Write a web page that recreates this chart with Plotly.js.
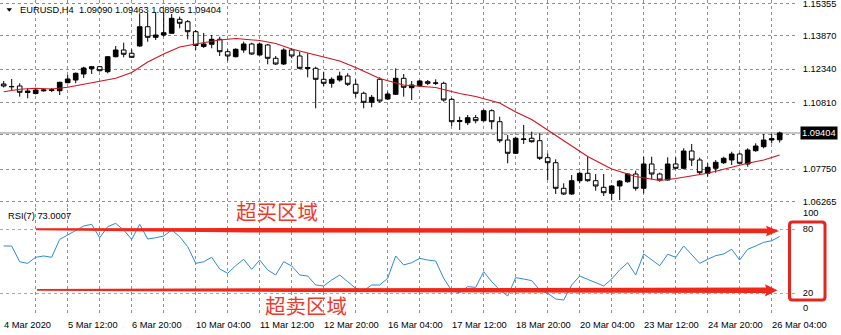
<!DOCTYPE html>
<html><head><meta charset="utf-8">
<script src="https://cdn.plot.ly/plotly-3.0.1.min.js"></script>
<style>html,body{margin:0;padding:0;background:#fff}#chart{width:841px;height:335px}</style>
</head><body><div id="chart"></div>
<script>
// ---------- DATA (EURUSD H4) ----------
const symbolTitle = 'EURUSD,H4';
const lastOHLC = ['1.09090', '1.09463', '1.08965', '1.09404'];

const opens = [1.11651,1.11537,1.11560,1.11261,1.11215,1.11339,1.11353,1.11344,1.11711,1.11835,
1.12110,1.12354,1.12446,1.12216,1.12905,1.13212,1.13061,1.13396,1.14281,1.13795,
1.13900,1.13979,1.14621,1.14511,1.14052,1.13373,1.13474,1.13703,1.13134,1.12905,
1.13212,1.13487,1.12983,1.13442,1.12831,1.12569,1.13212,1.12937,1.12363,1.12372,
1.11867,1.11683,1.11835,1.12019,1.11638,1.11225,1.10811,1.11867,1.10963,1.11179,
1.11913,1.11482,1.11573,1.11757,1.11683,1.11683,1.10949,1.09930,1.09875,1.10105,
1.09967,1.10426,1.09921,1.09081,1.08471,1.09104,1.09160,1.09049,1.08269,1.08039,
1.06864,1.06602,1.07213,1.07553,1.07213,1.06910,1.06635,1.06970,1.07167,1.07520,
1.06864,1.07980,1.07520,1.07245,1.07980,1.07782,1.08576,1.08163,1.07553,1.07782,
1.08039,1.08163,1.08439,1.07980,1.08590,1.08774,1.09081,1.09090];

const highs = [1.11789,1.11881,1.11683,1.11454,1.11422,1.11422,1.11468,1.11757,1.12064,1.12179,
1.12446,1.12478,1.12478,1.12937,1.13396,1.13547,1.13244,1.14897,1.14910,1.14933,
1.14956,1.14864,1.14740,1.14589,1.14130,1.13992,1.13900,1.13822,1.13244,1.13290,
1.13593,1.13547,1.13520,1.13487,1.12937,1.13290,1.13290,1.13134,1.13061,1.12446,
1.12216,1.11959,1.12216,1.12142,1.11867,1.11298,1.11147,1.11959,1.11298,1.12372,
1.12110,1.11789,1.11835,1.11835,1.11867,1.11757,1.11009,1.10151,1.10229,1.10229,
1.10490,1.10490,1.10151,1.09311,1.09233,1.09770,1.09462,1.09389,1.08471,1.08195,
1.07094,1.07475,1.07626,1.08315,1.07520,1.07520,1.07016,1.07245,1.07553,1.07672,
1.08315,1.08315,1.07580,1.08287,1.08287,1.08700,1.08897,1.08269,1.08012,1.08163,
1.08315,1.08544,1.08498,1.08700,1.08929,1.09357,1.09357,1.09463];

const lows = [1.11491,1.11376,1.11069,1.10995,1.11170,1.11298,1.11284,1.11147,1.11683,1.11683,
1.11927,1.12110,1.12225,1.12142,1.12877,1.12877,1.12845,1.13364,1.13593,1.13671,
1.13822,1.13969,1.14208,1.13703,1.13212,1.13304,1.13290,1.12937,1.12721,1.12877,
1.13088,1.12983,1.12960,1.12556,1.12524,1.12524,1.12831,1.12326,1.11959,1.10536,
1.11560,1.11482,1.11757,1.11560,1.11041,1.10536,1.10582,1.10793,1.10917,1.11147,
1.11069,1.10917,1.11528,1.11606,1.11606,1.10839,1.09724,1.09540,1.09770,1.09848,
1.09921,1.09572,1.08957,1.08012,1.08439,1.08897,1.08957,1.08163,1.07245,1.06602,
1.06557,1.06557,1.07094,1.07167,1.06754,1.06511,1.06327,1.06327,1.07121,1.06754,
1.06635,1.07277,1.07167,1.07213,1.07736,1.07736,1.07888,1.07520,1.07397,1.07580,
1.07980,1.07934,1.07980,1.07856,1.08544,1.08700,1.08929,1.08965];

const closes = [1.11560,1.11528,1.11271,1.11330,1.11376,1.11376,1.11385,1.11729,1.11881,1.12142,
1.12386,1.12446,1.12262,1.12905,1.13212,1.13015,1.12877,1.14281,1.13795,1.13900,
1.14006,1.14667,1.14438,1.14052,1.13419,1.13487,1.13703,1.13134,1.12937,1.13244,
1.13487,1.13028,1.13487,1.12831,1.12569,1.13212,1.12937,1.12372,1.12409,1.11867,
1.11683,1.11867,1.12019,1.11638,1.11225,1.10811,1.11041,1.10871,1.11192,1.11913,
1.11500,1.11606,1.11789,1.11683,1.11697,1.10917,1.09921,1.09976,1.10105,1.09967,
1.10426,1.09921,1.09049,1.08471,1.09160,1.09127,1.09003,1.08241,1.08039,1.06864,
1.06602,1.07213,1.07553,1.07213,1.06970,1.06662,1.06970,1.07199,1.07520,1.06864,
1.07980,1.07520,1.07245,1.07980,1.07782,1.08576,1.08163,1.07580,1.07828,1.08058,
1.08241,1.08439,1.08012,1.08622,1.08806,1.09081,1.09141,1.09404];

// moving average (red line), read at these bar indices
const maIdx = [0,2,4,6,8,10,12,14,16,18,20,22,24,27,29,32,34,36,39,42,44,47,50,52,54,57,59,62,64,66,68,70,73,76,79,82,84,88,90,93,95,97];
const maVal = [1.11298,1.11408,1.11454,1.11422,1.11500,1.11628,1.11757,1.11913,1.12179,1.12661,1.13028,1.13350,1.13487,1.13671,1.13740,1.13648,1.13510,1.13258,1.12983,1.12707,1.12409,1.11904,1.11606,1.11560,1.11491,1.11215,1.11078,1.10779,1.10366,1.10022,1.09540,1.09058,1.08324,1.07750,1.07406,1.07222,1.07314,1.07553,1.07750,1.08012,1.08163,1.08393];

// RSI(7)
const rsi = [64.1,64.0,49.3,47.8,53.5,54.7,53.5,70.3,74.4,79.0,
82.8,84.4,71.8,82.2,85.3,79.0,70.3,84.4,70.6,71.8,
73.4,79.0,72.8,63.4,47.8,49.3,53.5,42.5,38.5,45.6,
51.6,42.2,50.9,41.6,36.9,49.3,45.3,36.9,35.9,27.5,
26.6,32.2,36.9,30.6,24.4,22.2,27.5,27.5,33.8,54.7,
46.3,48.4,52.5,50.9,50.0,33.8,22.2,20.3,25.9,25.3,
40.0,30.6,22.8,17.2,34.4,33.1,31.6,22.8,19.7,14.4,
13.4,27.5,35.9,32.8,29.7,26.6,33.1,41.6,48.4,36.9,
56.6,50.9,45.6,56.3,53.5,64.1,55.6,47.8,51.6,55.0,
56.6,61.0,50.9,61.0,64.1,67.5,69.0,73.0];
const rsiLabel = 'RSI(7) 73.0007';
const rsiLevels = [20, 80];

// time axis labels (every 8 bars) and grid (every 4 bars)
const timeLabelIdx = [0,8,16,24,32,40,48,56,64,72,80,88,96];
const timeLabels = ['4 Mar 2020','5 Mar 12:00','6 Mar 20:00','10 Mar 04:00','11 Mar 12:00','12 Mar 20:00','16 Mar 04:00','17 Mar 12:00','18 Mar 20:00','20 Mar 04:00','23 Mar 12:00','24 Mar 20:00','26 Mar 04:00'];
const timeGridIdx = [4,8,12,16,20,24,28,32,36,40,44,48,52,56,60,64,68,72,76,80,84,88,92,96];

// price axis
const priceTicks = [1.15355, 1.13870, 1.12340, 1.10810, 1.09330, 1.07750, 1.06265];
const priceTickText = ['1.15355','1.13870','1.12340','1.10810','','1.07750','1.06265'];
const currentPrice = 1.09404;

const zoneTexts = ['超买区域', '超卖区域'];

// ---------- DRAWING ----------
const W = 841, H = 335, ML = 0, MR = 44, MT = 0, MB = 21;
const PW = W - ML - MR, PH = H - MT - MB;
const PX = p => p / PW;            // pixel x -> paper
const PY = p => 1 - p / PH;        // pixel y -> paper
const FONT = 'Liberation Sans, Arial, sans-serif';
const FS = 9.3;
const GRID = '#8f8f8f';
const DASH = '3px,3px';
const RED = '#f0281a';

const barIdx = closes.map((_, i) => i);
const X_RANGE = [-0.4625, 99.1625];

const traces = [
  {
    type: 'candlestick', x: barIdx, open: opens, high: highs, low: lows, close: closes,
    xaxis: 'x', yaxis: 'y', whiskerwidth: 0, hoverinfo: 'skip',
    increasing: {line: {color: '#000', width: 1}, fillcolor: '#000'},
    decreasing: {line: {color: '#000', width: 1}, fillcolor: '#fff'}
  },
  {
    type: 'scatter', mode: 'lines', x: maIdx, y: maVal, xaxis: 'x', yaxis: 'y',
    line: {color: '#d0141c', width: 1.1}, hoverinfo: 'skip'
  },
  {
    type: 'scatter', mode: 'lines', x: barIdx, y: rsi, xaxis: 'x2', yaxis: 'y2',
    line: {color: '#2d8ad8', width: 1}, hoverinfo: 'skip'
  }
];

const axFont = {family: FONT, size: FS, color: '#000'};
const commonX = {
  range: X_RANGE, tickvals: timeGridIdx, showticklabels: false, showgrid: true,
  gridcolor: GRID, griddash: DASH, gridwidth: 1, zeroline: false, showline: false, ticks: '',
  fixedrange: true
};

const annotations = [];
annotations.push({xref: 'paper', yref: 'paper', x: PX(18), y: PY(9.6), xanchor: 'left', yanchor: 'middle',
  text: symbolTitle + '\u00a0\u00a0' + lastOHLC.join(' '), showarrow: false, font: axFont});
annotations.push({xref: 'paper', yref: 'paper', x: PX(6), y: PY(215.5), xanchor: 'left', yanchor: 'middle',
  text: rsiLabel, showarrow: false, font: axFont});
timeLabelIdx.forEach((k, i) => annotations.push({
  xref: 'x2', yref: 'paper', x: k, y: PY(324.5), xanchor: 'left', yanchor: 'middle', xshift: -2,
  text: timeLabels[i], showarrow: false, font: axFont
}));
annotations.push({xref: 'paper', yref: 'paper', x: PX(801.5), y: PY(213), xanchor: 'left', yanchor: 'middle',
  text: '100', showarrow: false, font: axFont});
annotations.push({xref: 'paper', yref: 'paper', x: PX(801.5), y: PY(308), xanchor: 'left', yanchor: 'middle',
  text: '0', showarrow: false, font: axFont});
annotations.push({xref: 'paper', yref: 'y', x: PX(799.5), y: currentPrice, xanchor: 'left', yanchor: 'middle',
  text: currentPrice.toFixed(5), showarrow: false, bgcolor: '#000', borderpad: 1,
  font: {family: FONT, size: FS, color: '#fff'}});
annotations.push({xref: 'paper', yref: 'paper', x: PX(276.5), y: PY(211), xanchor: 'center', yanchor: 'middle',
  text: zoneTexts[0], showarrow: false, font: {family: 'Noto Sans CJK SC', size: 20.5, color: '#ee3a2c'}});
annotations.push({xref: 'paper', yref: 'paper', x: PX(305.5), y: PY(305), xanchor: 'center', yanchor: 'middle',
  text: zoneTexts[1], showarrow: false, font: {family: 'Noto Sans CJK SC', size: 20.5, color: '#ee3a2c'}});

function pathOf(pts) {
  return 'M ' + pts.map(p => PX(p[0]) + ',' + PY(p[1])).join(' L ') + ' Z';
}
const shapes = [];
// current price line
shapes.push({type: 'line', xref: 'paper', yref: 'y', x0: 0, x1: PX(800), y0: currentPrice, y1: currentPrice,
  line: {color: '#8a8a8a', width: 1}, layer: 'below'});
// header triangle
shapes.push({type: 'path', xref: 'paper', yref: 'paper', path: pathOf([[6.5, 8.2], [12, 8.2], [9.25, 11.8]]),
  fillcolor: '#000', line: {width: 0}});
// over-bought arrow
shapes.push({type: 'path', xref: 'paper', yref: 'paper',
  path: pathOf([[36, 228.3], [250, 227.9], [767, 228.6], [766, 225.8], [779, 231], [766, 236.2], [767, 233.3], [250, 232.4], [36, 230.2]]),
  fillcolor: RED, line: {width: 0}});
// over-sold arrow
shapes.push({type: 'path', xref: 'paper', yref: 'paper',
  path: pathOf([[37, 289.0], [300, 288.2], [766, 287.5], [765, 284.3], [777.5, 290.3], [765, 296.5], [766, 293], [300, 292], [37, 290.8]]),
  fillcolor: RED, line: {width: 0}});
// rounded box around 80 / 20
(function () {
  const x0 = 789.5, x1 = 825, y0 = 222, y1 = 300, r = 3;
  const p = 'M ' + PX(x0 + r) + ',' + PY(y0) + ' L ' + PX(x1 - r) + ',' + PY(y0) +
    ' Q ' + PX(x1) + ',' + PY(y0) + ' ' + PX(x1) + ',' + PY(y0 + r) +
    ' L ' + PX(x1) + ',' + PY(y1 - r) + ' Q ' + PX(x1) + ',' + PY(y1) + ' ' + PX(x1 - r) + ',' + PY(y1) +
    ' L ' + PX(x0 + r) + ',' + PY(y1) + ' Q ' + PX(x0) + ',' + PY(y1) + ' ' + PX(x0) + ',' + PY(y1 - r) +
    ' L ' + PX(x0) + ',' + PY(y0 + r) + ' Q ' + PX(x0) + ',' + PY(y0) + ' ' + PX(x0 + r) + ',' + PY(y0) + ' Z';
  shapes.push({type: 'path', xref: 'paper', yref: 'paper', path: p, line: {color: '#e6261e', width: 3}});
})();

const layout = {
  width: W, height: H,
  margin: {l: ML, r: MR, t: MT, b: MB, pad: 0},
  paper_bgcolor: '#fff', plot_bgcolor: '#fff',
  showlegend: false,
  font: axFont,
  boxgap: 0.42, boxgroupgap: 0,
  xaxis: Object.assign({domain: [0, 1], anchor: 'y', rangeslider: {visible: false}}, commonX),
  xaxis2: Object.assign({domain: [0, 1], anchor: 'y2'}, commonX),
  yaxis: {
    domain: [(PH - 207) / PH, 1], anchor: 'x', side: 'right', range: [1.06006, 1.15507],
    tickvals: priceTicks, ticktext: priceTickText, showgrid: true, gridcolor: GRID, griddash: DASH,
    zeroline: false, showline: false, ticks: 'outside', ticklen: 3, tickcolor: 'rgba(0,0,0,0)',
    ticklabeloverflow: 'allow', tickfont: axFont, fixedrange: true
  },
  yaxis2: {
    domain: [0, (PH - 208) / PH], anchor: 'x2', side: 'right', range: [0.31, 99.69],
    tickvals: rsiLevels, ticktext: rsiLevels.map(String), showgrid: true, gridcolor: '#a8a8a8', griddash: DASH,
    zeroline: false, showline: false, ticks: 'outside', ticklen: 3, tickcolor: 'rgba(0,0,0,0)',
    ticklabeloverflow: 'allow', tickfont: axFont, fixedrange: true
  },
  annotations: annotations,
  shapes: shapes
};

Plotly.newPlot('chart', traces, layout, {displayModeBar: false, staticPlot: true});
</script>
</body></html>
